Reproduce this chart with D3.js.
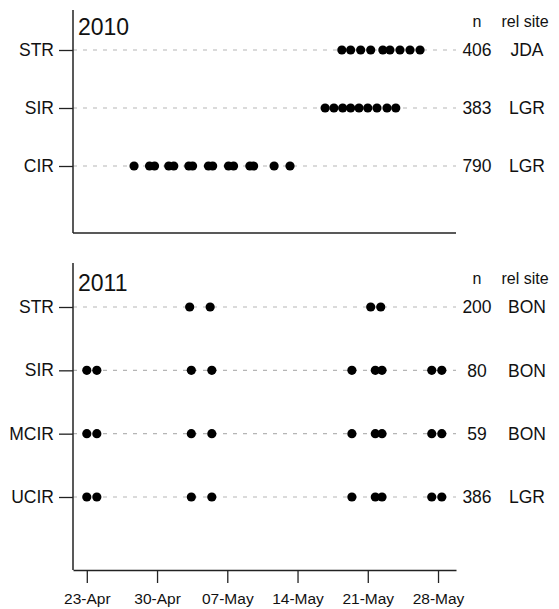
<!DOCTYPE html>
<html>
<head>
<meta charset="utf-8">
<script src="https://cdn.jsdelivr.net/npm/d3@7"></script>
<style>
  html, body { margin: 0; padding: 0; background: #fff; }
  svg { display: block; font-family: "Liberation Sans", Arial, Helvetica, sans-serif; }
</style>
</head>
<body>
<svg id="chart" width="559" height="609"></svg>
<script>
// Release groups, sample sizes and release sites for each year
const groups2010 = ["STR", "SIR", "CIR"];
const n2010 = [406, 383, 790];
const sites2010 = ["JDA", "LGR", "LGR"];

const groups2011 = ["STR", "SIR", "MCIR", "UCIR"];
const n2011 = [200, 80, 59, 386];
const sites2011 = ["BON", "BON", "BON", "LGR"];

// Release dates (date and hour) per group
const str2010 = ["2010-05-18 10:00", "2010-05-19 07:00", "2010-05-20 07:00", "2010-05-21 07:00",
                 "2010-05-22 12:00", "2010-05-23 05:00", "2010-05-24 05:00", "2010-05-25 05:00",
                 "2010-05-26 05:00"];
const sir2010 = ["2010-05-16 18:00", "2010-05-17 15:00", "2010-05-18 12:00", "2010-05-19 07:00",
                 "2010-05-20 03:00", "2010-05-21 00:00", "2010-05-21 22:00", "2010-05-22 22:00",
                 "2010-05-23 19:00"];
const cir2010 = ["2010-04-27 17:00", "2010-04-29 06:00", "2010-04-29 18:00", "2010-05-01 04:00",
                 "2010-05-01 16:00", "2010-05-03 04:00", "2010-05-03 13:00", "2010-05-05 03:00",
                 "2010-05-05 13:00", "2010-05-07 03:00", "2010-05-07 15:00", "2010-05-09 06:00",
                 "2010-05-09 15:00", "2010-05-11 16:00", "2010-05-13 06:00"];

const str2011 = ["2011-05-03 06:00", "2011-05-05 07:00", "2011-05-21 07:00", "2011-05-22 07:00"];
const sir2011 = ["2011-04-23 00:00", "2011-04-24 00:00", "2011-05-03 10:00", "2011-05-05 11:00",
                 "2011-05-19 10:00", "2011-05-21 18:00", "2011-05-22 10:00", "2011-05-27 09:00",
                 "2011-05-28 09:00"];
const mcir2011 = ["2011-04-23 00:00", "2011-04-24 00:00", "2011-05-03 10:00", "2011-05-05 11:00",
                  "2011-05-19 10:00", "2011-05-21 18:00", "2011-05-22 10:00", "2011-05-27 09:00",
                  "2011-05-28 09:00"];
const ucir2011 = ["2011-04-23 00:00", "2011-04-24 00:00", "2011-05-03 10:00", "2011-05-05 11:00",
                  "2011-05-19 10:00", "2011-05-21 18:00", "2011-05-22 10:00", "2011-05-27 09:00",
                  "2011-05-28 09:00"];

// Shared seasonal axis (day and month only)
const tickLabels = ["23-Apr", "30-Apr", "07-May", "14-May", "21-May", "28-May"];
const axisStart = "2011-04-21 15:00";
const axisEnd = "2011-05-29 19:00";

const parseDT = d3.timeParse("%Y-%m-%d %H:%M");
const parseTick = d3.timeParse("%Y %d-%b");
// Put every date onto one common year so both panels share the same axis
const season = s => {
  const d = parseDT(s);
  return new Date(2011, d.getMonth(), d.getDate(), d.getHours(), d.getMinutes());
};

const svg = d3.select("#chart");
const left = 73, right = 456;

const x = d3.scaleTime()
  .domain([parseDT(axisStart), parseDT(axisEnd)])
  .range([left, right]);

const panels = [
  { year: "2010", groups: groups2010, n: n2010, sites: sites2010,
    dates: [str2010, sir2010, cir2010], top: 10, bottom: 233, rowTop: 50, rowBottom: 166,
    yearBase: 35, headBase: 27, xAxis: false },
  { year: "2011", groups: groups2011, n: n2011, sites: sites2011,
    dates: [str2011, sir2011, mcir2011, ucir2011], top: 263, bottom: 570, rowTop: 307, rowBottom: 497,
    yearBase: 291, headBase: 284, xAxis: true }
];

const ink = "#222";

panels.forEach(p => {
  const g = svg.append("g");
  const y = d3.scalePoint().domain(p.groups).range([p.rowTop, p.rowBottom]);

  // dashed guide line per group
  g.selectAll("line.guide").data(p.groups).join("line")
    .attr("class", "guide")
    .attr("x1", left).attr("x2", right)
    .attr("y1", d => y(d)).attr("y2", d => y(d))
    .attr("stroke", "#b5b5b5").attr("stroke-width", 1.2)
    .attr("stroke-dasharray", "4,6");

  // release points
  p.groups.forEach((grp, i) => {
    g.selectAll(null).data(p.dates[i]).join("circle")
      .attr("cx", d => x(season(d)))
      .attr("cy", y(grp))
      .attr("r", 4.6)
      .attr("fill", "#000");
  });

  // left frame line
  g.append("line")
    .attr("x1", left).attr("x2", left)
    .attr("y1", p.top).attr("y2", p.bottom)
    .attr("stroke", ink).attr("stroke-width", 1.5);

  // group axis
  const ya = g.append("g").attr("transform", `translate(${left},0)`)
    .call(d3.axisLeft(y).tickSize(14).tickPadding(5));
  ya.select(".domain").remove();
  ya.selectAll(".tick line").attr("stroke", ink).attr("stroke-width", 1.3);
  ya.selectAll(".tick text").attr("font-size", 17.5).attr("fill", "#111")
    .attr("font-family", "Liberation Sans, Arial, sans-serif");

  if (p.xAxis) {
    const tickDates = tickLabels.map(t => parseTick("2011 " + t));
    const xa = g.append("g").attr("transform", `translate(0,${p.bottom})`)
      .call(d3.axisBottom(x).tickValues(tickDates).tickFormat(d3.timeFormat("%d-%b"))
        .tickSize(13).tickSizeOuter(0).tickPadding(10));
    xa.select(".domain").attr("stroke", ink).attr("stroke-width", 1.5);
    xa.selectAll(".tick line").attr("stroke", ink).attr("stroke-width", 1.3);
    xa.selectAll(".tick text").attr("font-size", 15.5).attr("fill", "#111")
      .attr("font-family", "Liberation Sans, Arial, sans-serif");
  } else {
    g.append("line")
      .attr("x1", left).attr("x2", right)
      .attr("y1", p.bottom).attr("y2", p.bottom)
      .attr("stroke", ink).attr("stroke-width", 1.5);
  }

  // year label
  g.append("text")
    .attr("x", 78).attr("y", p.yearBase)
    .attr("font-size", 23).attr("fill", "#111")
    .text(p.year);

  // column headers
  g.append("text").attr("x", 477).attr("y", p.headBase)
    .attr("text-anchor", "middle").attr("font-size", 16).attr("fill", "#111").text("n");
  g.append("text").attr("x", 525).attr("y", p.headBase)
    .attr("text-anchor", "middle").attr("font-size", 16).attr("fill", "#111").text("rel site");

  // sample sizes and release sites
  g.selectAll("text.nval").data(p.groups).join("text")
    .attr("class", "nval")
    .attr("x", 477).attr("y", d => y(d)).attr("dy", "0.36em")
    .attr("text-anchor", "middle").attr("font-size", 17.5).attr("fill", "#111")
    .text((d, i) => p.n[i]);
  g.selectAll("text.site").data(p.groups).join("text")
    .attr("class", "site")
    .attr("x", 527).attr("y", d => y(d)).attr("dy", "0.36em")
    .attr("text-anchor", "middle").attr("font-size", 17.5).attr("fill", "#111")
    .text((d, i) => p.sites[i]);
});
</script>
</body>
</html>
